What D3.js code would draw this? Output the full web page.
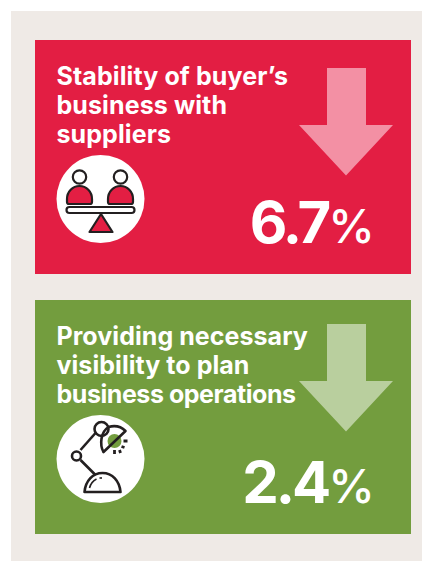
<!DOCTYPE html>
<html>
<head>
<meta charset="utf-8">
<script src="https://cdn.jsdelivr.net/npm/d3@7"></script>
<style>
  html, body { margin: 0; padding: 0; background: #fff; }
  svg { display: block; }
  text { font-family: Inter, "Open Sans", sans-serif; fill: #fff; }
</style>
</head>
<body>
<div id="chart"></div>
<script>
const categories = ["Stability of buyer’s business with suppliers", "Providing necessary visibility to plan business operations"];
const titleLines = [
  ["Stability of buyer’s", "business with", "suppliers"],
  ["Providing necessary", "visibility to plan", "business operations"]
];
const values = [6.7, 2.4];
const cardColors = ["#e31e43", "#739d3e"];
const arrowColors = ["#f390a4", "#b9cf9e"];
const icons = ["scale", "lamp"];

const width = 422, height = 561;
const ink = "#231f20";

const svg = d3.select("#chart").append("svg")
  .attr("width", width)
  .attr("height", height);

// Panel
svg.append("rect")
  .attr("x", 11).attr("y", 11)
  .attr("width", width - 11).attr("height", height - 11)
  .attr("fill", "#efeae6");

// One card per category
const y = d3.scaleBand()
  .domain(categories)
  .range([40, 534])
  .paddingInner(0.1);

const cards = svg.selectAll("g.card")
  .data(categories)
  .join("g")
    .attr("class", "card")
    .attr("transform", d => `translate(35,${y(d)})`);

cards.append("rect")
  .attr("width", 376)
  .attr("height", y.bandwidth())
  .attr("fill", (d, i) => cardColors[i]);

// Down arrow
cards.append("path")
  .attr("d", "M292 0H331V57H358L311 107.500L264 57H292Z")
  .attr("transform", (d, i) => `translate(0,${i ? 24 : 28})`)
  .attr("fill", (d, i) => arrowColors[i]);

// Title
cards.each(function(d, i) {
  d3.select(this).selectAll("text.title")
    .data(titleLines[i])
    .join("text")
      .attr("class", "title")
      .attr("x", 21.5)
      .attr("y", (l, j) => 45 + j * 29)
      .attr("font-size", 25)
      .attr("font-weight", 700)
      .attr("letter-spacing", (l, j) => i === 0 ? 0.1 : (j === 2 ? -0.45 : 0.05))
      .text(l => l);
});

// Value with smaller percent sign
const valueText = cards.append("text")
  .attr("x", 340)
  .attr("y", 203)
  .attr("text-anchor", "end")
  .attr("font-weight", 700);
valueText.append("tspan")
  .attr("font-size", 58)
  .attr("letter-spacing", -3)
  .text((d, i) => values[i].toFixed(1));
valueText.append("tspan")
  .attr("font-size", 47)
  .attr("font-weight", 500)
  .text("%");

// Icon badge
const iconG = cards.append("g")
  .attr("transform", "translate(65.500,159)");
iconG.append("circle")
  .attr("r", 44)
  .attr("fill", "#fff");

function drawScale(g) {
  g.attr("fill", "none").attr("stroke", ink).attr("stroke-width", 2.2).attr("stroke-linejoin", "round");
  [-21, 20].forEach(cx => {
    g.append("circle").attr("cx", cx).attr("cy", -22).attr("r", 6.7);
    g.append("path")
      .attr("d", `M${cx - 12.500} 3 v-3 a12.500 13 0 0 1 25 0 v3 a2 2 0 0 1 -2 2 h-21 a2 2 0 0 1 -2 -2 Z`)
      .attr("fill", cardColors[0]);
  });
  g.append("rect").attr("x", -34).attr("y", 8).attr("width", 68).attr("height", 6).attr("rx", 3);
  g.append("path").attr("d", "M0.500 15 L12 33 H-11 Z").attr("fill", cardColors[0]);
}

function drawLamp(g) {
  g.attr("fill", "none").attr("stroke", ink).attr("stroke-width", 2.6).attr("stroke-linejoin", "round");
  g.append("circle").attr("cx", 14).attr("cy", -18).attr("r", 7).attr("fill", cardColors[1]).attr("stroke", "none");
  g.append("circle").attr("cx", 1).attr("cy", -30).attr("r", 7).attr("fill", "#fff");
  g.append("path").attr("d", "M3 -7 C-1 -14 0 -27 8 -32 C15 -34 21 -32 25 -28 Z");
  g.append("path").attr("d", "M-5 -26 L-20 -9");
  g.append("circle").attr("cx", -24).attr("cy", -3).attr("r", 4.500);
  g.append("path").attr("d", "M-20 1 L-5 16");
  g.append("path").attr("d", "M-16 33 C-15 22 -8 14 2 14 C12 14 19 22 20 33 Z");
  g.append("path").attr("d", "M-11 29 C-10 25 -8 22 -4 20").attr("stroke-width", 1.6);
  g.append("path").attr("d", "M-1 19 h2.500").attr("stroke-width", 1.6);
  g.append("path").attr("d", "M23 -18 h4 M21 -12.500 l3 1 M19 -9 l1 3 M14 -9 v4").attr("stroke-width", 2.8);
}

iconG.each(function(d, i) {
  const g = d3.select(this).append("g");
  if (icons[i] === "scale") drawScale(g);
  else drawLamp(g);
});
</script>
</body>
</html>
